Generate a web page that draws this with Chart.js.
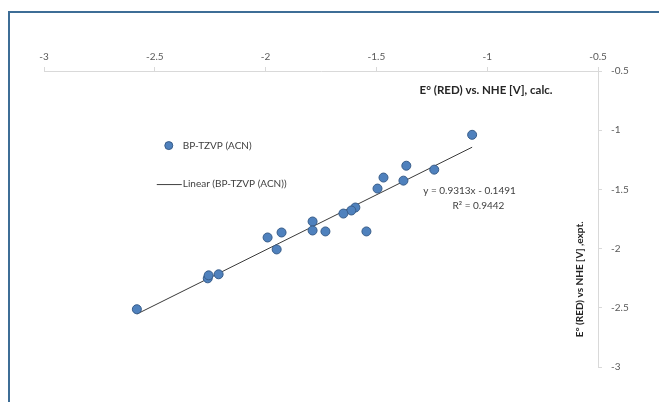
<!DOCTYPE html>
<html>
<head>
<meta charset="utf-8">
<script src="https://cdn.jsdelivr.net/npm/chart.js@4/dist/chart.umd.min.js"></script>
<style>
html,body{margin:0;padding:0;background:#fff;}
#wrap{width:659px;height:402px;position:relative;}
</style>
</head>
<body>
<div id="wrap"><canvas id="c" width="659" height="402"></canvas></div>
<script>
// Data
const seriesName = 'BP-TZVP (ACN)';
const trendName = 'Linear (BP-TZVP (ACN))';
const xCalc = [-1.068, -1.239, -1.365, -1.378, -1.468, -1.495, -1.595, -1.613, -1.649, -1.545, -1.730,
               -2.581, -2.261, -2.257, -2.212, -1.991, -1.928, -1.950, -1.788, -1.788];
const yExpt = [-1.039, -1.333, -1.300, -1.426, -1.400, -1.493, -1.653, -1.678, -1.704, -1.855, -1.855,
               -2.512, -2.251, -2.226, -2.217, -1.906, -1.864, -2.007, -1.771, -1.847];
const trendSlope = 0.9313;
const trendIntercept = -0.1491;
const eqLines = ['y = 0.9313x - 0.1491', 'R\u00b2 = 0.9442'];
const xTickLabels = ['-3', '-2.5', '-2', '-1.5', '-1', '-0.5'];
const yTickLabels = ['-3', '-2.5', '-2', '-1.5', '-1', '-0.5'];
const xTitle = 'E\u00b0 (RED) vs. NHE [V], calc.';
const yTitle = 'E\u00b0 (RED) vs NHE [V] ,expt.';

const scatterPts = xCalc.map((x, i) => ({x: x, y: yExpt[i]}));
const xMinD = Math.min(...xCalc), xMaxD = Math.max(...xCalc);
const trendPts = [xMinD, xMaxD].map(x => ({x: x, y: trendSlope * x + trendIntercept}));

const FONT = 'Lato, "Open Sans", sans-serif';
const axisGray = '#d9d9d9';
const tickColor = '#595959';

const overlay = {
  id: 'overlay',
  beforeDraw(chart) {
    const ctx = chart.ctx;
    ctx.save();
    ctx.fillStyle = '#fff';
    ctx.fillRect(0, 0, chart.width, chart.height);
    ctx.strokeStyle = '#3d6d96';
    ctx.lineWidth = 2;
    ctx.beginPath();
    ctx.moveTo(9, chart.height);
    ctx.lineTo(9, 12);
    ctx.lineTo(chart.width, 12);
    ctx.stroke();
    ctx.restore();
  },
  afterDraw(chart) {
    const ctx = chart.ctx;
    const xs = chart.scales.x, ys = chart.scales.y;
    ctx.save();
    // axis titles
    ctx.fillStyle = '#262626';
    ctx.font = 'bold 11.5px ' + FONT;
    ctx.textAlign = 'center';
    ctx.textBaseline = 'middle';
    ctx.fillText(xTitle, xs.getPixelForValue(-1.005), ys.getPixelForValue(-0.66));
    ctx.font = 'bold 10px ' + FONT;
    ctx.save();
    ctx.translate(xs.getPixelForValue(-0.58), ys.getPixelForValue(-2.26));
    ctx.rotate(-Math.PI / 2);
    ctx.fillText(yTitle, 0, 0);
    ctx.restore();
    // legend
    const lx = xs.getPixelForValue(-2.491), ly1 = ys.getPixelForValue(-1.13), ly2 = ys.getPixelForValue(-1.455);
    ctx.fillStyle = '#4f81bd';
    ctx.strokeStyle = '#385d8a';
    ctx.lineWidth = 1;
    ctx.beginPath();
    ctx.arc(lx + 12, ly1, 4, 0, Math.PI * 2);
    ctx.fill();
    ctx.stroke();
    ctx.strokeStyle = '#404040';
    ctx.beginPath();
    ctx.moveTo(lx, ly2 + 0.5);
    ctx.lineTo(lx + 25, ly2 + 0.5);
    ctx.stroke();
    ctx.fillStyle = '#404040';
    ctx.font = '10px ' + FONT;
    ctx.textAlign = 'left';
    ctx.fillText(seriesName, lx + 26, ly1);
    ctx.fillText(trendName, lx + 26, ly2);
    // equation
    ctx.textAlign = 'center';
    const ex = xs.getPixelForValue(-1.08);
    ctx.fillText(eqLines[0], ex, ys.getPixelForValue(-1.51));
    ctx.fillText(eqLines[1], ex + 9, ys.getPixelForValue(-1.635));
    ctx.restore();
  }
};

new Chart(document.getElementById('c'), {
  type: 'scatter',
  data: {
    datasets: [
      {
        label: trendName,
        type: 'line',
        data: trendPts,
        borderColor: '#3a3a3a',
        borderWidth: 1,
        pointRadius: 0,
        fill: false,
        order: 2
      },
      {
        label: seriesName,
        data: scatterPts,
        backgroundColor: '#4f81bd',
        borderColor: '#385d8a',
        borderWidth: 1,
        pointRadius: 4.5,
        order: 1
      }
    ]
  },
  options: {
    responsive: false,
    animation: false,
    devicePixelRatio: 1,
    layout: {padding: {left: 44, top: 0, right: 0, bottom: 35}},
    plugins: {legend: {display: false}, tooltip: {enabled: false}},
    scales: {
      x: {
        type: 'linear',
        position: 'top',
        min: -3, max: -0.5,
        afterFit(s) { s.height = 71; },
        afterBuildTicks(s) { s.ticks = xTickLabels.map(t => ({value: parseFloat(t)})); },
        grid: {drawOnChartArea: false, drawTicks: true, tickLength: 4, color: axisGray},
        border: {color: axisGray},
        ticks: {
          font: {family: FONT, size: 10}, color: tickColor, padding: 4, maxRotation: 0,
          callback: (v, i) => xTickLabels[i]
        }
      },
      y: {
        type: 'linear',
        position: 'right',
        min: -3, max: -0.5,
        afterFit(s) { s.width = 61; },
        afterBuildTicks(s) { s.ticks = yTickLabels.map(t => ({value: parseFloat(t)})); },
        grid: {drawOnChartArea: false, drawTicks: true, tickLength: 4, color: axisGray},
        border: {color: axisGray},
        ticks: {
          font: {family: FONT, size: 10}, color: tickColor, padding: 9,
          callback: (v, i) => yTickLabels[i]
        }
      }
    }
  },
  plugins: [overlay]
});
</script>
</body>
</html>
